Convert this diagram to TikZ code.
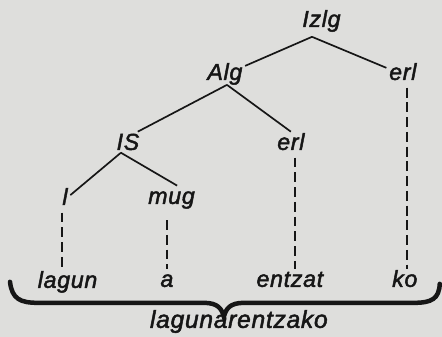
\documentclass[tikz,border=0pt]{standalone}
\usepackage{fontspec}
\setmainfont{Liberation Sans}
\newfontfamily\treefont[LetterSpace=3, FakeBold=2]{Liberation Sans}
\usepackage{xcolor}
\usetikzlibrary{positioning,calc}
\definecolor{paper}{RGB}{222,222,220}
\definecolor{ink}{RGB}{22,22,22}

\begin{document}
\begin{tikzpicture}[
    lbl/.style={anchor=base, inner sep=0pt, outer sep=2pt, text height=11pt, text depth=3.5pt,
      text=ink, font=\fontsize{16.5}{19}\treefont\itshape},
    branch/.style={draw=ink, line width=1.2pt},
    trace/.style={draw=ink, line width=1.2pt, dash pattern=on 7pt off 3.5pt}
  ]
    \fill[paper] (0,0) rectangle (11.05,8.425);

    % tree labels
    \node[lbl] (izlg) at (8.04,7.75) {Izlg};
    \node[lbl] (alg) at (5.625,6.425) {Alg};
    \node[lbl] (erlA) at (10.075,6.425) {erl};
    \node[lbl] (is) at (3.2,4.675) {IS};
    \node[lbl] (erlB) at (7.275,4.675) {erl};
    \node[lbl] (l) at (1.625,3.3) {l};
    \node[lbl] (mug) at (4.29,3.325) {mug};

    % morphs
    \node[lbl] (lagun) at (1.69,1.225) {lagun};
    \node[lbl] (a) at (4.175,1.25) {a};
    \node[lbl] (entzat) at (7.25,1.25) {entzat};
    \node[lbl] (ko) at (10.125,1.25) {ko};
    \node[lbl, font=\fontsize{17.5}{20}\treefont\itshape] (word) at (5.975,0.225) {lagunarentzako};

    % branches
    \draw[branch] ([xshift=-6.7pt, yshift=-1.5pt]izlg.south) -- (alg);
    \draw[branch] ([xshift=-6.7pt, yshift=-1.5pt]izlg.south) -- (erlA);
    \draw[branch] ([xshift=1.5pt, yshift=2pt]alg.south) -- ([xshift=-3pt]is.north east);
    \draw[branch] ([xshift=1.5pt, yshift=2pt]alg.south) -- (erlB.north);
    \draw[branch] ([xshift=-5pt, yshift=3.5pt]is.south) -- (l);
    \draw[branch] ([xshift=-5pt, yshift=3.5pt]is.south) -- ([xshift=4pt]mug.north);

    % dashed links
    \draw[trace] ([xshift=-2pt]l.south) -- ([xshift=-2pt]l.south |- lagun.north);
    \draw[trace, shorten <=6pt] (a.north |- mug.south) -- (a.north);
    \draw[trace] ([xshift=3.5pt]entzat.north |- erlB.south) -- ([xshift=3.5pt]entzat.north);
    \draw[trace] ([xshift=3pt]erlA.south) -- ([xshift=3pt]erlA.south |- ko.north);

    % brace
    \draw[ink, line width=3.2pt, line cap=round]
        (0.25,1.375) .. controls (0.3,0.95) and (0.5,0.85) .. (0.95,0.85) -- (5.1,0.85)
        .. controls (5.45,0.85) and (5.55,0.7) .. (5.6,0.5)
        .. controls (5.65,0.7) and (5.75,0.85) .. (6.1,0.85) -- (10.35,0.85)
        .. controls (10.8,0.85) and (10.98,0.95) .. (11.0,1.325);
\end{tikzpicture}
\end{document}
